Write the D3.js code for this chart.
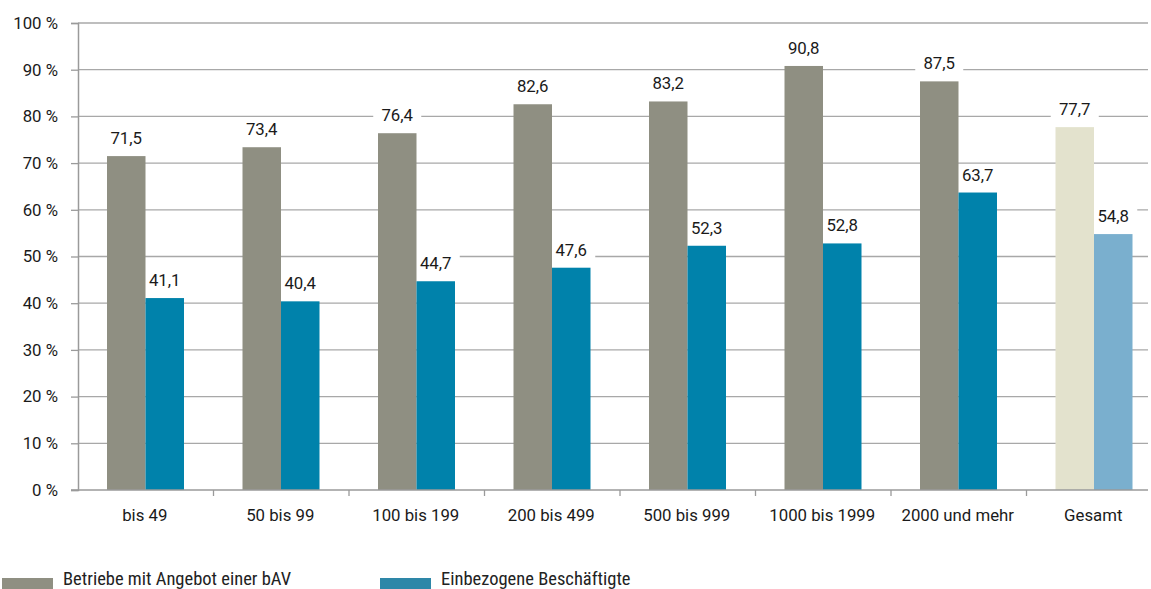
<!DOCTYPE html>
<html><head><meta charset="utf-8">
<script src="https://cdn.jsdelivr.net/npm/d3@7"></script>
<style>body{margin:0;background:#fff}svg{display:block}</style>
</head><body>
<svg id="c" width="1151" height="589"></svg>
<script>
const categories = ["bis 49","50 bis 99","100 bis 199","200 bis 499","500 bis 999","1000 bis 1999","2000 und mehr","Gesamt"];
const betriebe = [71.5,73.4,76.4,82.6,83.2,90.8,87.5,77.7];
const beschaeftigte = [41.1,40.4,44.7,47.6,52.3,52.8,63.7,54.8];
const yTicks = [0,10,20,30,40,50,60,70,80,90,100];
const seriesNames = ["Betriebe mit Angebot einer bAV","Einbezogene Beschäftigte"];

const svg = d3.select("#c");
const plotLeft = 78, plotRight = 1162, plotTop = 23, plotBottom = 490, gridEnd = 1148;
const x = d3.scaleBand().domain(categories).range([plotLeft, plotRight]).paddingInner(0).paddingOuter(0);
const y = d3.scaleLinear().domain([0,100]).range([plotBottom, plotTop]);
const fmt = v => d3.format(".1f")(v).replace(".", ",");
const numFont = "Roboto, 'Liberation Sans', sans-serif";
const fs = 16.8;

// gridlines
svg.append("g").selectAll("line").data(yTicks.filter(d=>d>0)).join("line")
  .attr("x1", plotLeft).attr("x2", gridEnd).attr("y1", d=>y(d)).attr("y2", d=>y(d))
  .attr("stroke", "#a8a8a8").attr("stroke-width", 1.3);

const barW = 38.5, off = 29;
const colsA = categories.map((c,i)=> i===categories.length-1 ? "#e3e2cd" : "#8f8f82");
const colsB = categories.map((c,i)=> i===categories.length-1 ? "#7aafce" : "#0082ab");

const labels = [];
categories.forEach((c,i)=>{
  const x0 = x(c) + off;
  labels.push({cx: x0 + barW/2, v: betriebe[i]});
  labels.push({cx: x0 + barW*1.5, v: beschaeftigte[i]});
});

// label backgrounds (hide gridlines behind labels)
const bgG = svg.append("g");
labels.forEach(l=>{
  const yy = y(l.v) - 12;
  bgG.append("rect").attr("x", l.cx - 24).attr("y", yy - 16).attr("width", 48).attr("height", 22).attr("fill", "#fff");
});

// bars
categories.forEach((c,i)=>{
  const x0 = x(c) + off;
  svg.append("rect").attr("x", x0).attr("width", barW).attr("y", y(betriebe[i])).attr("height", plotBottom - y(betriebe[i])).attr("fill", colsA[i]);
  svg.append("rect").attr("x", x0+barW).attr("width", barW).attr("y", y(beschaeftigte[i])).attr("height", plotBottom - y(beschaeftigte[i])).attr("fill", colsB[i]);
});

// value labels
const lg = svg.append("g");
labels.forEach(l=>{
  lg.append("text").attr("x", l.cx).attr("y", y(l.v) - 12).attr("text-anchor","middle")
    .attr("font-family", numFont).attr("font-size", fs).attr("fill", "#1a1a1a").text(fmt(l.v));
});

// y axis
const yAxis = d3.axisLeft(y).tickValues(yTicks).tickSize(7).tickPadding(13).tickFormat(d=>d+" %");
const ya = svg.append("g").attr("transform", `translate(${plotLeft},0)`).call(yAxis);
ya.select(".domain").attr("stroke","#9a9a9a").attr("stroke-width",1.5);
ya.selectAll(".tick line").attr("stroke","#9a9a9a").attr("stroke-width",1.3);
ya.selectAll(".tick text").attr("font-family", numFont).attr("font-size", fs).attr("fill","#1a1a1a");

// x axis baseline
svg.append("line").attr("x1", plotLeft-7).attr("x2", gridEnd).attr("y1", plotBottom).attr("y2", plotBottom).attr("stroke","#9a9a9a").attr("stroke-width",1.5);
// category boundary ticks
svg.append("g").selectAll("line").data(categories.slice(1)).join("line")
  .attr("x1", d=>x(d)).attr("x2", d=>x(d)).attr("y1", plotBottom).attr("y2", plotBottom+6)
  .attr("stroke","#9a9a9a").attr("stroke-width",1.3);
// category labels
svg.append("g").selectAll("text").data(categories).join("text")
  .attr("x", d=>x(d)+x.bandwidth()/2 - 1).attr("y", plotBottom+31).attr("text-anchor","middle")
  .attr("font-family", numFont).attr("font-size", fs).attr("fill","#1a1a1a").text(d=>d);

// legend
const legendX = [2, 380];
const legendCols = ["#8f8f82","#2e87a8"];
seriesNames.forEach((n,i)=>{
  svg.append("rect").attr("x", legendX[i]).attr("y", 578).attr("width", 51).attr("height", 11).attr("fill", legendCols[i]);
  svg.append("text").attr("x", legendX[i]+61).attr("y", 585)
    .attr("font-family","'Liberation Sans Narrow', 'Roboto Condensed', sans-serif").attr("font-size", 18.5).attr("fill","#222").text(n);
});
</script>
</body></html>
